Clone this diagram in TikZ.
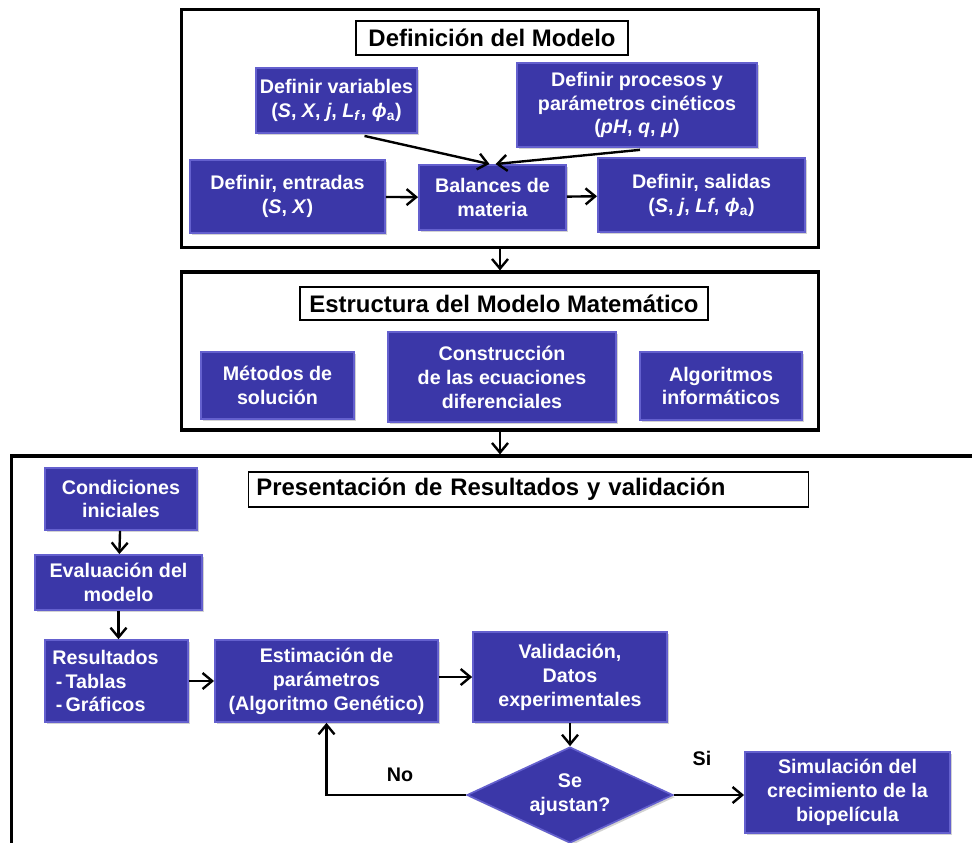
\documentclass[tikz,border=0pt]{standalone}
\usepackage{fontspec}
\setmainfont{Liberation Sans}
\usetikzlibrary{calc,shapes.geometric,shadows,arrows.meta}
\definecolor{azulcaja}{RGB}{59,55,168}
\definecolor{bordecaja}{RGB}{100,96,206}
\tikzset{
	caja/.style={draw=bordecaja, line width=1.2pt, fill=azulcaja, text=white, align=center, inner sep=2pt,
		font=\fontsize{14}{17}\selectfont\bfseries,
		drop shadow={shadow xshift=1.5pt, shadow yshift=-1.5pt, opacity=.35}},
	titulo/.style={draw=black, line width=1pt, fill=white, font=\fontsize{17}{20}\selectfont\bfseries},
	marco/.style={draw=black, line width=2.2pt, inner sep=0pt},
	flecha/.style={line width=1.7pt, -{Straight Barb[length=2.4mm, width=4mm]}},
	rotulo/.style={font=\fontsize{14}{17}\selectfont\bfseries}
}
\begin{document}
\begin{tikzpicture}[x=0.025cm, y=-0.025cm]
			%%%%% START %%%%%
			
			\useasboundingbox[fill=white] (0, 0) rectangle (972, 842);
			
			%%%%% Definicion del modelo
			\node[marco, minimum width=15.9cm, minimum height=5.93cm] (mdef) at (500, 128.5) {};
			\node[titulo, minimum width=6.8cm, minimum height=0.85cm] (tdef) at (492, 38) {Definición del Modelo};
			
			\node[caja, minimum width=4.03cm, minimum height=1.63cm] (var) at (336.5, 100.5) {Definir variables\\(\textit{S}, \textit{X}, \textit{j}, \textit{L}\textsubscript{\textit{f}}, \textit{ϕ}\textsubscript{a})};
			\node[caja, minimum width=6cm, minimum height=2.1cm] (proc) at (637, 105) {Definir procesos y\\parámetros cinéticos\\(\textit{pH}, \textit{q}, \textit{μ})};
			\node[caja, minimum width=4.88cm, minimum height=1.83cm] (ent) at (287.5, 196.5) {Definir, entradas\\(\textit{S}, \textit{X})};
			\node[caja, minimum width=3.68cm, minimum height=1.63cm] (bal) at (492.5, 197.5) {Balances de\\materia};
			\node[caja, minimum width=5.18cm, minimum height=1.85cm] (sal) at (701.5, 195) {Definir, salidas\\(\textit{S}, \textit{j}, \textit{Lf}, \textit{ϕ}\textsubscript{a})};
			
			\draw[flecha] ($(var.south)+(28, 2)$) -- ($(bal.north)+(-3, 0)$);
			\draw[flecha] ($(proc.south)+(3, 2)$) -- ($(bal.north)+(3, 0)$);
			\draw[flecha] (ent) -- (bal);
			\draw[flecha] (bal) -- (sal);
			
			%%%%% Estructura del modelo
			\node[marco, minimum width=15.9cm, minimum height=3.95cm] (mest) at (500, 351) {};
			\node[titulo, minimum width=10.2cm, minimum height=0.83cm] (test) at (504, 303.5) {Estructura del Modelo Matemático};
			
			\node[caja, minimum width=3.83cm, minimum height=1.68cm] (met) at (277.5, 385.5) {Métodos de\\solución};
			\node[caja, minimum width=5.7cm, minimum height=2.25cm] (cons) at (502, 377) {Construcción\\de las ecuaciones\\diferenciales};
			\node[caja, minimum width=4.05cm, minimum height=1.7cm] (alg) at (721, 386) {Algoritmos\\informáticos};
			
			\draw[flecha] (mdef.south) -- (mest.north);
			
			%%%%% Presentacion de resultados
			\node[marco, minimum width=24.25cm, minimum height=10cm] (mres) at (497, 656) {};
			\node[titulo, minimum height=0.88cm, text width=13.6cm, inner xsep=0.2cm, align=left] (tres) at (528.5, 489.5) {Presentación de Resultados y validación};
			
			\draw[flecha] (mest.south) -- (mest.south |- mres.north);
			
			\node[caja, minimum width=3.8cm, minimum height=1.55cm] (cond) at (121, 499) {Condiciones\\iniciales};
			\node[caja, minimum width=4.18cm, minimum height=1.38cm] (eval) at (118.5, 582.5) {Evaluación del\\modelo};
			\node[caja, minimum height=2.05cm, text width=3.2cm, inner xsep=0.19cm, align=left] (resu) at (116.5, 681) {Resultados\\\,-\,Tablas\\\,-\,Gráficos};
			\node[caja, minimum width=5.58cm, minimum height=2.05cm] (est) at (326.5, 681) {Estimación de\\parámetros\\(Algoritmo Genético)};
			\node[caja, minimum width=4.85cm, minimum height=2.25cm] (val) at (570, 677) {Validación,\\Datos\\experimentales};
			\node[caja, diamond, aspect=2.1, inner sep=0pt, minimum width=5.15cm, minimum height=2.4cm] (aju) at (570, 795) {Se\\ajustan?};
			\node[caja, minimum width=5.13cm, minimum height=2.03cm] (sim) at (847.5, 792.5) {Simulación del\\crecimiento de la\\biopelícula};
			
			\draw[flecha] (cond) -- (eval);
			\draw[flecha] (eval) -- (eval |- resu.north);
			\draw[flecha] (resu) -- (resu -| est.west);
			\draw[flecha] (est.east |- val.west) -- (val.west);
			\draw[flecha] (val) -- (aju);
			\draw[flecha] (aju.west) -| (est.south);
			\draw[flecha] (aju.east) -- (aju -| sim.west);
			
			\node[rotulo] (lno) at (400, 775) {No};
			\node[rotulo] (lsi) at (702, 758) {Si};
			
			%%%%% END %%%%%
\end{tikzpicture}
\end{document}
